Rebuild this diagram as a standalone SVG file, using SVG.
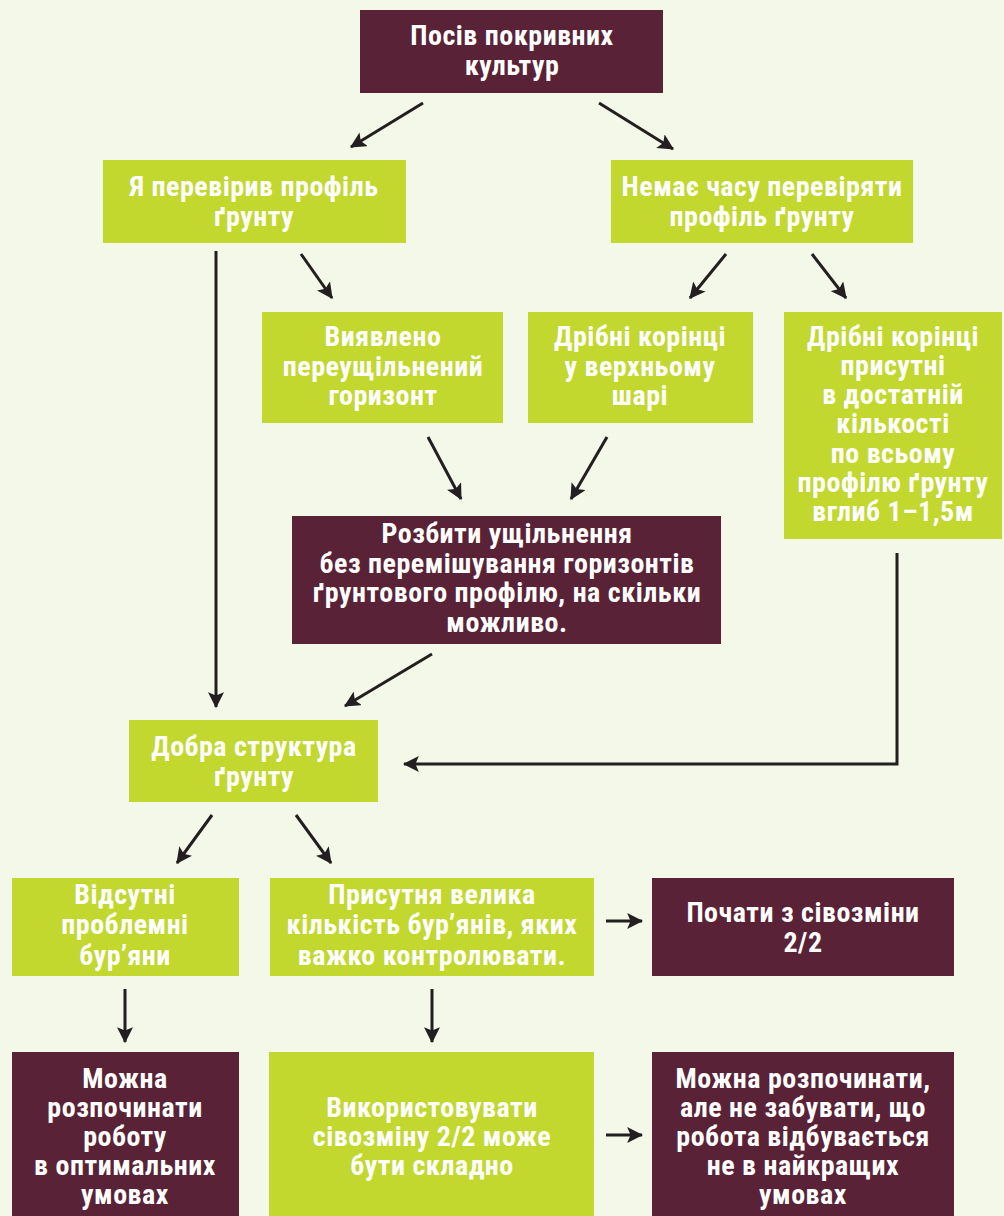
<svg xmlns="http://www.w3.org/2000/svg" width="1004" height="1216" viewBox="0 0 1004 1216">
<style>
.bg{fill:#f4f8e8}
.d{fill:#5a2236}
.g{fill:#c2d82e}
text{font-family:"Liberation Sans Narrow","Roboto Condensed","Liberation Sans",sans-serif;font-weight:bold;font-size:28px;letter-spacing:0.5px;fill:#ffffff;text-anchor:middle}
.c line,.c path{stroke:#231f20;stroke-width:3;fill:none;marker-end:url(#ah)}
</style>
<defs>
<marker id="ah" viewBox="0 0 14 14" refX="13" refY="7" markerWidth="16" markerHeight="16" orient="auto" markerUnits="userSpaceOnUse">
<path d="M0,0 L14,7 L0,14 L3,7 z" fill="#231f20"/>
</marker>
</defs>
<rect class="bg" x="0" y="0" width="1004" height="1216"/>
<g id="n1"><rect class="d" x="360" y="10" width="303" height="83"/><text x="512" y="45"><tspan x="512">Посів покривних</tspan><tspan x="512" dy="30">культур</tspan></text></g>
<g id="n2"><rect class="g" x="103" y="160" width="303" height="83"/><text x="254" y="196"><tspan x="254">Я перевірив профіль</tspan><tspan x="254" dy="30">ґрунту</tspan></text></g>
<g id="n3"><rect class="g" x="611" y="160" width="302" height="83"/><text x="762" y="196"><tspan x="762">Немає часу перевіряти</tspan><tspan x="762" dy="30">профіль ґрунту</tspan></text></g>
<g id="n4"><rect class="g" x="262" y="312" width="241" height="111"/><text x="383" y="346"><tspan x="383">Виявлено</tspan><tspan x="383" dy="30">переущільнений</tspan><tspan x="383" dy="29">горизонт</tspan></text></g>
<g id="n5"><rect class="g" x="528" y="312" width="225" height="111"/><text x="640" y="346"><tspan x="640">Дрібні корінці</tspan><tspan x="640" dy="30">у верхньому</tspan><tspan x="640" dy="29">шарі</tspan></text></g>
<g id="n6"><rect class="g" x="784" y="312" width="218" height="227"/><text x="893" y="346"><tspan x="893">Дрібні корінці</tspan><tspan x="893" dy="29">присутні</tspan><tspan x="893" dy="29">в достатній</tspan><tspan x="893" dy="29">кількості</tspan><tspan x="893" dy="30">по всьому</tspan><tspan x="893" dy="29">профілю ґрунту</tspan><tspan x="893" dy="29">вглиб 1–1,5м</tspan></text></g>
<g id="n7"><rect class="d" x="292" y="516" width="429" height="128"/><text x="507" y="543"><tspan x="507">Розбити ущільнення</tspan><tspan x="507" dy="30">без перемішування горизонтів</tspan><tspan x="507" dy="29">ґрунтового профілю, на скільки</tspan><tspan x="507" dy="30">можливо.</tspan></text></g>
<g id="n8"><rect class="g" x="129" y="720" width="249" height="82"/><text x="254" y="756"><tspan x="254">Добра структура</tspan><tspan x="254" dy="30">ґрунту</tspan></text></g>
<g id="n9"><rect class="g" x="12" y="878" width="227" height="98"/><text x="125" y="904"><tspan x="125">Відсутні</tspan><tspan x="125" dy="30">проблемні</tspan><tspan x="125" dy="31">бур’яни</tspan></text></g>
<g id="n10"><rect class="g" x="270" y="878" width="324" height="98"/><text x="432" y="904"><tspan x="432">Присутня велика</tspan><tspan x="432" dy="30">кількість бур’янів, яких</tspan><tspan x="432" dy="31">важко контролювати.</tspan></text></g>
<g id="n11"><rect class="d" x="652" y="878" width="302" height="98"/><text x="803" y="922"><tspan x="803">Почати з сівозміни</tspan><tspan x="803" dy="30">2/2</tspan></text></g>
<g id="n12"><rect class="d" x="12" y="1052" width="227" height="170"/><text x="125" y="1088"><tspan x="125">Можна</tspan><tspan x="125" dy="29">розпочинати</tspan><tspan x="125" dy="29">роботу</tspan><tspan x="125" dy="29">в оптимальних</tspan><tspan x="125" dy="29">умовах</tspan></text></g>
<g id="n13"><rect class="g" x="269" y="1052" width="325" height="170"/><text x="432" y="1117"><tspan x="432">Використовувати</tspan><tspan x="432" dy="29">сівозміну 2/2 може</tspan><tspan x="432" dy="29">бути складно</tspan></text></g>
<g id="n14"><rect class="d" x="652" y="1052" width="302" height="170"/><text x="803" y="1088"><tspan x="803">Можна розпочинати,</tspan><tspan x="803" dy="29">але не забувати, що</tspan><tspan x="803" dy="29">робота відбувається</tspan><tspan x="803" dy="29">не в найкращих</tspan><tspan x="803" dy="29">умовах</tspan></text></g>
<g id="connectors" class="c">
<line x1="423" y1="103" x2="351" y2="147"/>
<line x1="599" y1="103" x2="673" y2="149"/>
<line x1="216" y1="251" x2="216" y2="707"/>
<line x1="301" y1="254" x2="332" y2="298"/>
<line x1="726" y1="254" x2="690" y2="298"/>
<line x1="812" y1="254" x2="846" y2="298"/>
<line x1="428" y1="437" x2="461" y2="499"/>
<line x1="607" y1="437" x2="571" y2="499"/>
<line x1="432" y1="654" x2="345" y2="706"/>
<path d="M897,553 V764 H404"/>
<line x1="212" y1="815" x2="177" y2="863"/>
<line x1="296" y1="815" x2="331" y2="863"/>
<line x1="125" y1="989" x2="125" y2="1042"/>
<line x1="432" y1="989" x2="432" y2="1042"/>
<line x1="606" y1="921" x2="642" y2="921"/>
<line x1="606" y1="1135" x2="642" y2="1135"/>
</g>
</svg>
